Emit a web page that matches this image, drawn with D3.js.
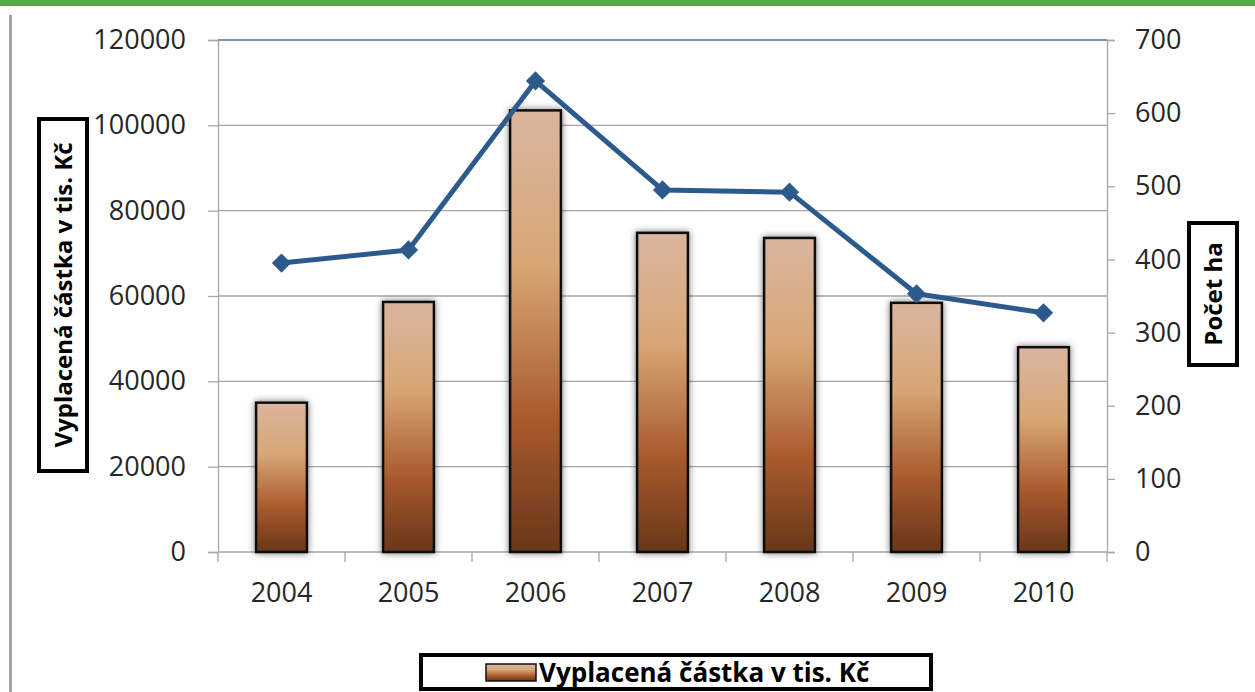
<!DOCTYPE html>
<html><head><meta charset="utf-8">
<script src="https://cdn.jsdelivr.net/npm/d3@7"></script>
<style>body{margin:0;background:#fff;}svg{display:block;}</style>
</head><body>
<script>
const years = ["2004","2005","2006","2007","2008","2009","2010"];
const amounts = [35000, 58600, 103500, 74800, 73600, 58400, 48000];
const hectares = [395, 413, 644, 495, 492, 353, 327];
const leftTicks = [0,20000,40000,60000,80000,100000,120000];
const rightTicks = [0,100,200,300,400,500,600,700];
const leftTitle = "Vyplacená částka v tis. Kč";
const rightTitle = "Počet ha";
const legendLabel = "Vyplacená částka v tis. Kč";

const W = 1255, H = 692;
const m = {left:218, right:1107, top:40, bottom:552};
const font = "'Open Sans', 'Liberation Sans', sans-serif";

const svg = d3.select("body").append("svg").attr("width", W).attr("height", H);
const defs = svg.append("defs");
const grad = defs.append("linearGradient").attr("id","barGrad").attr("x1",0).attr("y1",0).attr("x2",0).attr("y2",1);
[[0,"#dab59e"],[0.35,"#d7a675"],[0.7,"#a95a2d"],[1,"#68371a"]].forEach(([o,c])=>grad.append("stop").attr("offset",o).attr("stop-color",c));
const sh = defs.append("filter").attr("id","shadow").attr("x","-30%").attr("y","-10%").attr("width","160%").attr("height","120%");
sh.append("feDropShadow").attr("dx",0).attr("dy",0).attr("stdDeviation",3.5).attr("flood-color","#000").attr("flood-opacity",0.55);

// top green band and left rule
svg.append("rect").attr("x",0).attr("y",0).attr("width",W).attr("height",6).attr("fill","#55a846");
svg.append("rect").attr("x",9).attr("y",15).attr("width",3).attr("height",H-15).attr("fill","#a6a6a6");

const x = d3.scaleBand().domain(years).range([m.left, m.right]).paddingInner(0.6).paddingOuter(0.3);
const xc = d3.scaleBand().domain(years).range([m.left, m.right]);
const yL = d3.scaleLinear().domain([0,120000]).range([m.bottom, m.top]);
const yR = d3.scaleLinear().domain([0,700]).range([m.bottom, m.top]);

// gridlines
svg.append("g").selectAll("line").data(leftTicks.filter(d=>d>0)).join("line")
  .attr("x1",m.left).attr("x2",m.right).attr("y1",d=>yL(d)).attr("y2",d=>yL(d))
  .attr("stroke",d=>d===120000?"#4a6fa5":"#a6a6a6").attr("stroke-width",1.3);

// axes
const axL = svg.append("g").attr("transform",`translate(${m.left},0)`)
  .call(d3.axisLeft(yL).tickValues(leftTicks).tickSize(10).tickPadding(22).tickFormat(d3.format("d")));
const axR = svg.append("g").attr("transform",`translate(${m.right},0)`)
  .call(d3.axisRight(yR).tickValues(rightTicks).tickSize(8).tickPadding(20).tickFormat(d3.format("d")));
const axB = svg.append("g").attr("transform",`translate(0,${m.bottom})`)
  .call(d3.axisBottom(xc).tickSize(0).tickPadding(31));
// category boundary ticks
svg.append("g").selectAll("line").data(years.concat(["end"])).join("line")
  .attr("x1",(d,i)=>m.left + i*xc.step()).attr("x2",(d,i)=>m.left + i*xc.step())
  .attr("y1",m.bottom).attr("y2",m.bottom+10).attr("stroke","#a6a6a6").attr("stroke-width",1.3);

[axL,axR,axB].forEach(a=>{
  a.selectAll(".domain").attr("stroke","#a6a6a6").attr("stroke-width",1.3);
  a.selectAll(".tick line").attr("stroke","#a6a6a6").attr("stroke-width",1.3);
  a.selectAll("text").attr("font-family",font).attr("font-size",27).attr("fill","#262626");
});
axB.select(".domain").attr("d",`M${m.left},0H${m.right}`);

// bars
svg.append("g").selectAll("rect").data(amounts).join("rect")
  .attr("x",(d,i)=>x(years[i])).attr("width",x.bandwidth())
  .attr("y",d=>yL(d)).attr("height",d=>yL(0)-yL(d))
  .attr("fill","url(#barGrad)").attr("stroke","#111").attr("stroke-width",2.5)
  .attr("filter","url(#shadow)");

// line
const line = d3.line().x((d,i)=>xc(years[i])+xc.bandwidth()/2).y(d=>yR(d));
svg.append("path").datum(hectares).attr("d",line).attr("fill","none")
  .attr("stroke","#2c5a8c").attr("stroke-width",5).attr("stroke-linejoin","round");
svg.append("g").selectAll("path").data(hectares).join("path")
  .attr("d",d3.symbol().type(d3.symbolSquare).size(185))
  .attr("transform",(d,i)=>`translate(${xc(years[i])+xc.bandwidth()/2},${yR(d)}) rotate(45)`)
  .attr("fill","#2c5a8c");

// left title
const lt = svg.append("g").attr("transform","translate(63,295) rotate(-90)");
lt.append("rect").attr("x",-176).attr("y",-24).attr("width",352).attr("height",48)
  .attr("fill","#fff").attr("stroke","#000").attr("stroke-width",4);
lt.append("text").attr("text-anchor","middle").attr("dy","0.36em").attr("font-family",font)
  .attr("font-weight","bold").attr("font-size",24).attr("fill","#000").text(leftTitle);

// right title
const rt = svg.append("g").attr("transform","translate(1213,294) rotate(-90)");
rt.append("rect").attr("x",-71).attr("y",-24).attr("width",142).attr("height",48)
  .attr("fill","#fff").attr("stroke","#000").attr("stroke-width",4);
rt.append("text").attr("text-anchor","middle").attr("dy","0.36em").attr("font-family",font)
  .attr("font-weight","bold").attr("font-size",24).attr("fill","#000").text(rightTitle);

// legend
const lg = svg.append("g");
lg.append("rect").attr("x",421).attr("y",655).attr("width",510).attr("height",34)
  .attr("fill","#fff").attr("stroke","#000").attr("stroke-width",4);
lg.append("rect").attr("x",486).attr("y",664).attr("width",50).attr("height",17)
  .attr("fill","url(#barGrad)").attr("stroke","#111").attr("stroke-width",1.5);
lg.append("text").attr("x",539).attr("y",673).attr("dy","0.36em").attr("font-family",font)
  .attr("font-weight","bold").attr("font-size",26).attr("fill","#000").text(legendLabel);
</script>
</body></html>
